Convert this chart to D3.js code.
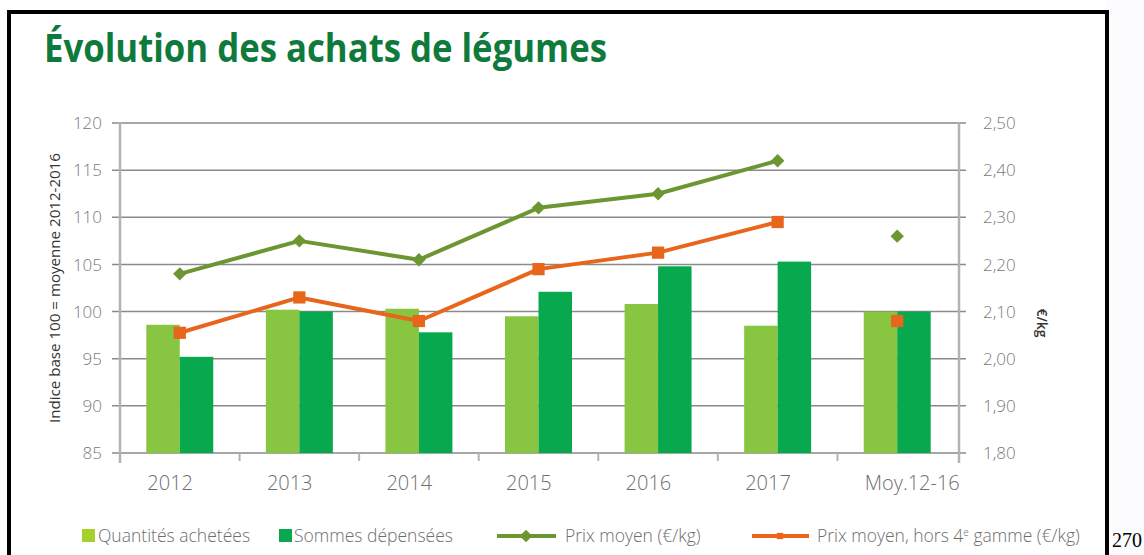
<!DOCTYPE html>
<html>
<head>
<meta charset="utf-8">
<script src="https://cdn.jsdelivr.net/npm/d3@7"></script>
<style>
  html, body { margin: 0; padding: 0; background: #fff; }
  svg { display: block; }
  text { font-family: "Open Sans", sans-serif; }
</style>
</head>
<body>
<div id="chart"></div>
<script>
// data
const categories = ["2012", "2013", "2014", "2015", "2016", "2017", "Moy.12-16"];
const quantites  = [98.6, 100.2, 100.3, 99.5, 100.8, 98.5, 100.0];   // indice
const sommes     = [95.2, 100.0, 97.8, 102.1, 104.8, 105.3, 100.0];  // indice
const prixMoyen  = [2.18, 2.25, 2.21, 2.32, 2.35, 2.42, 2.26];       // €/kg
const prixHors4  = [2.055, 2.13, 2.08, 2.19, 2.225, 2.29, 2.08];     // €/kg
const leftTicks  = [85, 90, 95, 100, 105, 110, 115, 120];
const rightTicks = [1.8, 1.9, 2.0, 2.1, 2.2, 2.3, 2.4, 2.5];

var width = 1144, height = 555;

var colLight = "#88c540", colDark = "#07a84e", colOlive = "#6b9632", colOrange = "#e8661c";
var gridCol = "#8a8a8a", axisCol = "#b3b3b3", tickText = "#7a7a7a";

var svg = d3.select("#chart").append("svg")
  .attr("width", width)
  .attr("height", height);

// background, slightly off-white outside the frame on the right
svg.append("rect").attr("x", 1107).attr("y", 0).attr("width", 40).attr("height", height).attr("fill", "#fcfbfd");
svg.append("rect").attr("x", 9).attr("y", 12).attr("width", 1098).attr("height", 600)
  .attr("fill", "#fff").attr("stroke", "#000").attr("stroke-width", 4);

// title
svg.append("text")
  .attr("x", 44).attr("y", 62)
  .attr("textLength", 563).attr("lengthAdjust", "spacingAndGlyphs")
  .style("font-size", "40px").style("font-weight", 700)
  .attr("fill", "#0e7a3c")
  .text("Évolution des achats de légumes");

// scales
var yL = d3.scaleLinear().domain([85, 120]).range([453, 123]);
var yR = d3.scaleLinear().domain([1.8, 2.5]).range([453, 123]);
var x0 = d3.scaleBand().domain(categories).range([120, 957]).paddingInner(0.44).paddingOuter(0.22);
var x1 = d3.scaleBand().domain([0, 1]).range([0, x0.bandwidth()]);
var step = x0.step();

// gridlines
svg.append("g").selectAll("line")
  .data(leftTicks).enter().append("line")
  .attr("x1", 112).attr("x2", 966)
  .attr("y1", function(d) { return yL(d); })
  .attr("y2", function(d) { return yL(d); })
  .attr("stroke", gridCol).attr("stroke-width", 1.5);

// category tick marks under the axis
svg.append("g").selectAll("line")
  .data(d3.range(1, categories.length)).enter().append("line")
  .attr("x1", function(i) { return 120 + i * step; })
  .attr("x2", function(i) { return 120 + i * step; })
  .attr("y1", 453).attr("y2", 461)
  .attr("stroke", axisCol).attr("stroke-width", 2);

// axis lines
svg.append("line").attr("x1", 120).attr("x2", 120).attr("y1", 122).attr("y2", 463)
  .attr("stroke", axisCol).attr("stroke-width", 2.5);
svg.append("line").attr("x1", 959).attr("x2", 959).attr("y1", 122).attr("y2", 463)
  .attr("stroke", axisCol).attr("stroke-width", 2.5);

// tick labels
svg.append("g").selectAll("text")
  .data(leftTicks).enter().append("text")
  .attr("x", 102).attr("y", function(d) { return yL(d); })
  .attr("dy", "0.36em").attr("text-anchor", "end")
  .style("font-size", "17px").style("font-weight", 300)
  .attr("fill", tickText)
  .text(function(d) { return d; });

var fmtR = d3.format(".2f");
svg.append("g").selectAll("text")
  .data(rightTicks).enter().append("text")
  .attr("x", 983).attr("y", function(d) { return yR(d); })
  .attr("dy", "0.36em").attr("text-anchor", "start")
  .style("font-size", "17px").style("font-weight", 300)
  .attr("fill", tickText)
  .text(function(d) { return fmtR(d).replace(".", ","); });

svg.append("g").selectAll("text")
  .data(categories).enter().append("text")
  .attr("x", function(d) { return x0(d) + 1; })
  .attr("y", 490)
  .style("font-size", "20px").style("font-weight", 300)
  .attr("fill", "#6e6e6e")
  .text(function(d) { return d; });

// axis titles
svg.append("text")
  .attr("transform", "translate(60,288) rotate(-90)")
  .attr("text-anchor", "middle")
  .attr("textLength", 270).attr("lengthAdjust", "spacingAndGlyphs")
  .style("font-size", "14px")
  .attr("fill", "#333")
  .text("Indice base 100 = moyenne 2012-2016");

svg.append("text")
  .attr("transform", "translate(1037,323) rotate(90)")
  .attr("text-anchor", "middle")
  .style("font-size", "14px").style("font-weight", 600)
  .attr("fill", "#333")
  .text("€/kg");

// bars
var groups = svg.append("g").selectAll("g")
  .data(categories).enter().append("g")
  .attr("transform", function(d) { return "translate(" + x0(d) + ",0)"; });

groups.append("rect")
  .attr("x", x1(0)).attr("width", x1.bandwidth())
  .attr("y", function(d, i) { return yL(quantites[i]); })
  .attr("height", function(d, i) { return yL(85) - yL(quantites[i]); })
  .attr("fill", colLight);

groups.append("rect")
  .attr("x", x1(1)).attr("width", x1.bandwidth())
  .attr("y", function(d, i) { return yL(sommes[i]); })
  .attr("height", function(d, i) { return yL(85) - yL(sommes[i]); })
  .attr("fill", colDark);

// lines (the average column is a lone point)
function cx(i) { return x0(categories[i]) + x0.bandwidth() / 2; }

function drawSeries(values, color, shape, size, rot) {
  var line = d3.line()
    .defined(function(d, i) { return i < categories.length - 1; })
    .x(function(d, i) { return cx(i); })
    .y(function(d) { return yR(d); });
  svg.append("path")
    .datum(values)
    .attr("d", line)
    .attr("fill", "none")
    .attr("stroke", color)
    .attr("stroke-width", 4)
    .attr("stroke-linejoin", "round");
  svg.append("g").selectAll("path")
    .data(values).enter().append("path")
    .attr("d", d3.symbol().type(shape).size(size))
    .attr("transform", function(d, i) { return "translate(" + cx(i) + "," + yR(d) + ") rotate(" + rot + ")"; })
    .attr("fill", color);
}
drawSeries(prixMoyen, colOlive, d3.symbolSquare, 90, 45);
drawSeries(prixHors4, colOrange, d3.symbolSquare, 150, 0);

// legend
var legendY = 536;
var lg = svg.append("g");
function legendText(x, t) {
  return lg.append("text").attr("x", x).attr("y", legendY + 6)
    .style("font-size", "17.5px").style("font-weight", 300)
    .attr("fill", "#6e6e6e").text(t);
}
lg.append("rect").attr("x", 82).attr("y", legendY - 7).attr("width", 13).attr("height", 13).attr("fill", "#a6d02c");
legendText(98, "Quantités achetées");
lg.append("rect").attr("x", 279).attr("y", legendY - 7).attr("width", 13).attr("height", 13).attr("fill", colDark);
legendText(294, "Sommes dépensées");

lg.append("line").attr("x1", 497).attr("x2", 556).attr("y1", legendY).attr("y2", legendY)
  .attr("stroke", colOlive).attr("stroke-width", 4);
lg.append("path").attr("d", d3.symbol().type(d3.symbolSquare).size(80))
  .attr("transform", "translate(526," + legendY + ") rotate(45)").attr("fill", colOlive);
legendText(565, "Prix moyen (€/kg)");

lg.append("line").attr("x1", 752).attr("x2", 809).attr("y1", legendY).attr("y2", legendY)
  .attr("stroke", colOrange).attr("stroke-width", 4);
lg.append("path").attr("d", d3.symbol().type(d3.symbolSquare).size(40))
  .attr("transform", "translate(780," + legendY + ")").attr("fill", colOrange);
var t4 = legendText(817, "Prix moyen, hors 4");
t4.append("tspan").attr("dy", "-6px").style("font-size", "10px").text("e");
t4.append("tspan").attr("dy", "6px").text(" gamme (€/kg)");

// page number outside the frame
svg.append("text")
  .attr("x", 1112).attr("y", 547)
  .style("font-family", "'Liberation Serif', serif").style("font-size", "20px")
  .attr("fill", "#000")
  .text("270");
</script>
</body>
</html>
